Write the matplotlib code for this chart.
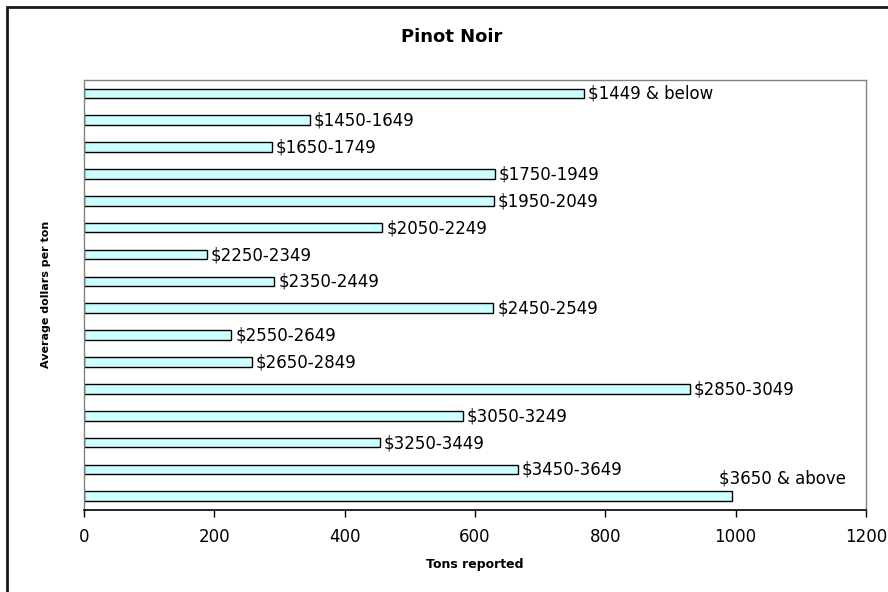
import matplotlib
matplotlib.use('Agg')
import matplotlib.pyplot as plt
from matplotlib.patches import Rectangle

# 원본 글자가 가로로 넓게 늘어나 있어서 폭이 넓은 DejaVu Sans 사용
plt.rcParams['font.family'] = ['DejaVu Sans']

# 가격 구간별 보고 톤수 (위에서 아래 순서)
categories = ['$1449 & below', '$1450-1649', '$1650-1749', '$1750-1949',
              '$1950-2049', '$2050-2249', '$2250-2349', '$2350-2449',
              '$2450-2549', '$2550-2649', '$2650-2849', '$2850-3049',
              '$3050-3249', '$3250-3449', '$3450-3649', '$3650 & above']
tons = [768, 347, 288, 630, 629, 458, 189, 292,
        628, 226, 258, 930, 581, 454, 666, 995]
x_ticks = [0, 200, 400, 600, 800, 1000, 1200]

fig = plt.figure(figsize=(8.88, 5.92), dpi=100)
ax = fig.add_axes([0.0946, 0.139, 0.8806, 0.726])

pos = list(range(len(categories)))
ax.barh(pos, tons, height=0.36, color='#CCFFFF', edgecolor='black', linewidth=1.0)

# 막대 옆 라벨 (마지막은 영역 밖으로 나가서 위로 올림)
for i, (c, v) in enumerate(zip(categories, tons)):
    if i == len(categories) - 1:
        ax.text(974, i - 0.66, c, ha='left', va='center', fontsize=12)
    else:
        ax.text(v + 6, i + 0.02, c, ha='left', va='center', fontsize=12)

ax.set_xlim(0, 1200)
ax.set_ylim(len(categories) - 0.5, -0.5)
ax.set_xticks(x_ticks)
ax.tick_params(axis='x', direction='out', length=5, width=1, labelsize=12, pad=8)
ax.set_yticks([])

for s in ['top', 'right', 'left']:
    ax.spines[s].set_color('#808080')
    ax.spines[s].set_linewidth(1)
ax.spines['bottom'].set_color('black')
ax.spines['bottom'].set_linewidth(1.2)

ax.set_xlabel('Tons reported', fontsize=9, fontweight='bold', labelpad=9)
ax.set_ylabel('Average dollars per ton', fontsize=8, fontweight='bold', labelpad=24)
fig.text(0.509, 0.9375, 'Pinot Noir', ha='center', va='center',
         fontsize=13, fontweight='bold')

# 차트 외곽 테두리 (오른쪽/아래는 잘려 있음)
fig.patches.append(Rectangle((7 / 888, -0.05), 1.1, 1.0 - 7 / 592 + 0.05,
                             transform=fig.transFigure, fill=False,
                             edgecolor='#1a1a1a', linewidth=2.0))

fig.savefig('out.png', dpi=100)
